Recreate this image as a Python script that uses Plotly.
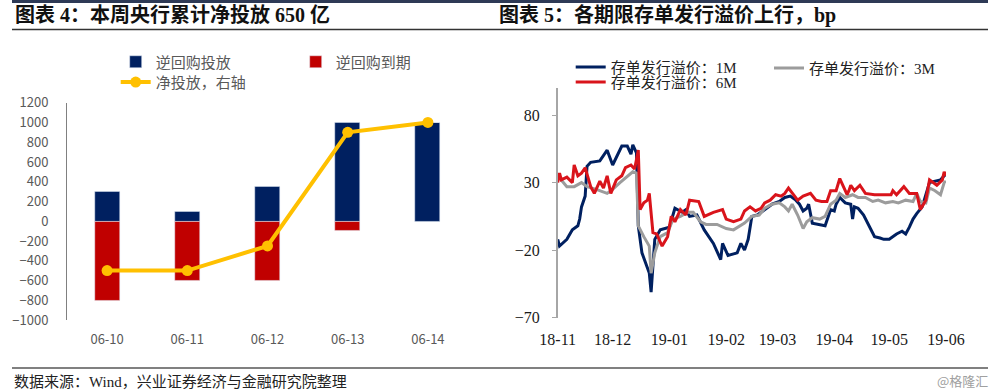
import plotly.graph_objects as go

# ---------------- Left chart data ----------------
days = ["06-10", "06-11", "06-12", "06-13", "06-14"]
rr_inject = [300, 100, 350, 1000, 1000]      # 逆回购投放
rr_mature = [-800, -600, -600, -100, 0]      # 逆回购到期
net_inject = [-500, -500, -250, 900, 1000]   # 净投放，右轴
left_ticks = [-1000, -800, -600, -400, -200, 0, 200, 400, 600, 800, 1000, 1200]

# ---------------- Right chart data ----------------
d_1m = ["2018-11-01","2018-11-02","2018-11-06","2018-11-09","2018-11-12","2018-11-13","2018-11-14",
        "2018-11-16","2018-11-17","2018-11-19","2018-11-24","2018-11-28","2018-12-01","2018-12-04",
        "2018-12-06","2018-12-09","2018-12-11","2018-12-12","2018-12-14","2018-12-15","2018-12-17",
        "2018-12-21","2018-12-22","2018-12-24","2018-12-27","2019-01-01","2019-01-04","2019-01-08",
        "2019-01-10","2019-01-12","2019-01-16","2019-01-20","2019-01-25","2019-01-29","2019-01-30",
        "2019-02-02","2019-02-07","2019-02-09","2019-02-11","2019-02-13","2019-02-15","2019-02-18",
        "2019-02-22","2019-02-26","2019-03-02","2019-03-05","2019-03-08","2019-03-11","2019-03-13",
        "2019-03-15","2019-03-17","2019-03-18","2019-03-20","2019-03-23","2019-03-27","2019-03-29",
        "2019-03-30","2019-04-01","2019-04-02","2019-04-04","2019-04-07","2019-04-10","2019-04-11",
        "2019-04-12","2019-04-14","2019-04-17","2019-04-20","2019-04-23","2019-04-26","2019-04-28",
        "2019-05-01","2019-05-03","2019-05-05","2019-05-08","2019-05-10","2019-05-12","2019-05-14",
        "2019-05-16","2019-05-19","2019-05-23","2019-05-26","2019-05-29","2019-05-31","2019-06-01"]
v_1m = [-12, -17, -12, -5, -2, 3, 12,
        20, 42, 45, 46, 54, 43, 51,
        57, 57, 51, 58, 52, -2, -22,
        -37, -51, -12, -5, -3, 11, 8,
        10, 5, 6, -5, -15, -27, -15,
        -24, -22, -15, -20, -12, 5, 6,
        10, 14, 16, 19, 20, 17, 14,
        9, 11, 14, 0, -1, -2, 6,
        10, 9, 14, 19, 15, 14, 3,
        12, 11, 6, -2, -10, -11, -12,
        -12, -10, -8, -6, -8, -3, 3,
        7, 12, 30, 31, 32, 35, 36]

d_3m = ["2018-11-01","2018-11-06","2018-11-10","2018-11-14","2018-11-17","2018-11-22","2018-11-28",
        "2018-12-01","2018-12-05","2018-12-09","2018-12-12","2018-12-14","2018-12-15","2018-12-18",
        "2018-12-21","2018-12-22","2018-12-24","2018-12-27","2018-12-31","2019-01-03","2019-01-07",
        "2019-01-11","2019-01-14","2019-01-18","2019-01-21","2019-01-27","2019-02-01","2019-02-05",
        "2019-02-09","2019-02-11","2019-02-15","2019-02-19","2019-02-22","2019-02-26","2019-03-02",
        "2019-03-05","2019-03-07","2019-03-09","2019-03-12","2019-03-15","2019-03-17","2019-03-20",
        "2019-03-24","2019-03-27","2019-03-30","2019-04-02","2019-04-04","2019-04-07","2019-04-11",
        "2019-04-14","2019-04-18","2019-04-22","2019-04-25","2019-04-29","2019-05-03","2019-05-06",
        "2019-05-10","2019-05-14","2019-05-16","2019-05-18","2019-05-21","2019-05-23","2019-05-26",
        "2019-05-29","2019-05-31","2019-06-01"]
v_3m = [35, 27, 27, 30, 27, 25, 22,
        25, 30, 35, 38, 37, -2, -10,
        -17, -37, -22, -10, -7, 3, 5,
        8, 8, 1, -1, -1, -4, -5,
        -2, 0, 5, 6, 11, 14, 15,
        12, 9, 14, 6, -4, 1, 4,
        3, 5, 14, 17, 22, 19, 21,
        19, 19, 16, 17, 15, 16, 15,
        17, 16, 22, 16, 15, 26, 24,
        21, 30, 31]

d_6m = ["2018-11-01","2018-11-02","2018-11-03","2018-11-06","2018-11-09","2018-11-10","2018-11-12",
        "2018-11-14","2018-11-16","2018-11-19","2018-11-21","2018-11-24","2018-11-26","2018-11-28",
        "2018-11-30","2018-12-03","2018-12-06","2018-12-08","2018-12-11","2018-12-13","2018-12-15",
        "2018-12-16","2018-12-18","2018-12-20","2018-12-21","2018-12-23","2018-12-25","2018-12-28",
        "2018-12-31","2019-01-02","2019-01-04","2019-01-07","2019-01-10","2019-01-12","2019-01-17",
        "2019-01-20","2019-01-25","2019-01-30","2019-02-01","2019-02-05","2019-02-09","2019-02-11",
        "2019-02-14","2019-02-17","2019-02-20","2019-02-22","2019-02-25","2019-02-28","2019-03-03",
        "2019-03-05","2019-03-07","2019-03-10","2019-03-12","2019-03-15","2019-03-19","2019-03-22",
        "2019-03-25","2019-03-28","2019-03-30","2019-04-02","2019-04-04","2019-04-06","2019-04-08",
        "2019-04-09","2019-04-10","2019-04-12","2019-04-15","2019-04-18","2019-04-23","2019-04-29",
        "2019-05-02","2019-05-03","2019-05-05","2019-05-09","2019-05-12","2019-05-16","2019-05-18",
        "2019-05-21","2019-05-23","2019-05-27","2019-05-30","2019-05-31","2019-06-01"]
v_6m = [30, 37, 32, 34, 30, 43, 35,
        37, 41, 27, 22, 31, 26, 35,
        22, 32, 35, 41, 43, 40, 54,
        10, 15, 17, 22, -7, -8, -17,
        -10, 5, 1, 10, 6, 17, 16,
        5, 8, 10, 3, 1, 3, 9,
        12, 9, 11, 15, 17, 21, 20,
        22, 26, 21, 17, 20, 22, 17,
        16, 16, 24, 24, 33, 27, 21,
        24, 28, 24, 28, 22, 21, 21,
        21, 24, 21, 27, 22, 22, 10,
        17, 32, 28, 32, 38, 35]

month_ticks = ["2018-11-01", "2018-12-01", "2019-01-01", "2019-02-01", "2019-03-01",
               "2019-04-01", "2019-05-01", "2019-06-01"]
month_labels = ["18-11", "18-12", "19-01", "19-02", "19-03", "19-04", "19-05", "19-06"]
right_ticks = [-70, -20, 30, 80]

# ---------------- Styling ----------------
NAVY = "#002060"
RED_BAR = "#C00000"
GOLD = "#FFC000"
RED_LINE = "#D9141B"
GRAY_LINE = "#9C9C9C"
SANS = "Noto Sans CJK SC, Noto Sans, sans-serif"
SERIF = "Liberation Serif, Noto Sans CJK SC, serif"

H = 391.0
def py(px):
    return 1 - px / H

fig = go.Figure()

# Left: bars + line
fig.add_trace(go.Bar(x=days, y=rr_inject, name="逆回购投放", marker_color=NAVY,
                     width=0.31, xaxis="x", yaxis="y", legend="legend"))
fig.add_trace(go.Bar(x=days, y=rr_mature, name="逆回购到期", marker_color=RED_BAR,
                     width=0.31, xaxis="x", yaxis="y", legend="legend2"))
fig.add_trace(go.Scatter(x=days, y=net_inject, name="净投放，右轴", mode="lines+markers",
                         line=dict(color=GOLD, width=4), marker=dict(size=11, color=GOLD),
                         xaxis="x", yaxis="y2", legend="legend3"))

# Right: lines
fig.add_trace(go.Scatter(x=d_1m, y=v_1m, name="存单发行溢价：1M", mode="lines",
                         line=dict(color=NAVY, width=3), xaxis="x2", yaxis="y3", legend="legend4"))
fig.add_trace(go.Scatter(x=d_3m, y=v_3m, name="存单发行溢价：3M", mode="lines",
                         line=dict(color=GRAY_LINE, width=3), xaxis="x2", yaxis="y3", legend="legend5"))
fig.add_trace(go.Scatter(x=d_6m, y=v_6m, name="存单发行溢价：6M", mode="lines",
                         line=dict(color=RED_LINE, width=3), xaxis="x2", yaxis="y3", legend="legend6"))

L_X = [0.067, 0.468]
L_Y = [py(320), py(102.7)]
R_X = [0.5577, 0.946]
R_Y = [py(317.7), py(88)]
L_ZERO = L_Y[0] + (1000 / 2200) * (L_Y[1] - L_Y[0])
R_ZERO = R_Y[0] + (70 / 170) * (R_Y[1] - R_Y[0])

def leg(x, y, size, family, color):
    return dict(x=x, y=y, xanchor="left", yanchor="middle", orientation="h",
                bgcolor="rgba(0,0,0,0)", borderwidth=0,
                font=dict(family=family, size=size, color=color))

fig.update_layout(
    width=1000, height=391,
    margin=dict(l=0, r=0, t=0, b=0, autoexpand=False),
    paper_bgcolor="white", plot_bgcolor="white",
    barmode="relative",
    bargap=0,
    xaxis=dict(domain=L_X, anchor="y", type="category", range=[-0.5, 4.5], automargin=False,
               showline=False, showgrid=False, zeroline=False,
               ticks="", ticklabelstandoff=10,
               tickfont=dict(family=SANS, size=13, color="#595959")),
    xaxis3=dict(domain=L_X, overlaying="x", anchor="free", position=L_ZERO, automargin=False,
                range=[-0.5, 4.5], tickvals=[0.5, 1.5, 2.5, 3.5, 4.5],
                showticklabels=False, showline=True, linecolor="#808080", linewidth=1,
                ticks="inside", ticklen=4, tickcolor="#808080",
                showgrid=False, zeroline=False),
    yaxis=dict(domain=L_Y, anchor="x", range=[-1000, 1200], tickvals=left_ticks, automargin=False,
               showline=True, linecolor="#808080", linewidth=1,
               ticks="", ticklabelstandoff=15,
               showgrid=False, zeroline=False,
               tickfont=dict(family=SANS, size=13, color="#595959")),
    yaxis2=dict(overlaying="y", anchor="x", side="right", range=[-1000, 1200], automargin=False,
                visible=False, showgrid=False, zeroline=False),
    xaxis2=dict(domain=R_X, anchor="y3", type="date", automargin=False,
                range=["2018-11-01", "2019-06-01"],
                tickvals=month_ticks, ticktext=month_labels,
                showline=False, showgrid=False, zeroline=False,
                ticks="", ticklabelstandoff=10,
                tickfont=dict(family=SERIF, size=16, color="#1a1a1a")),
    xaxis4=dict(domain=R_X, overlaying="x2", anchor="free", position=R_ZERO, type="date",
                automargin=False,
                range=["2018-11-01", "2019-06-01"], tickvals=month_ticks[1:],
                showticklabels=False, showline=True, linecolor="#A6A6A6", linewidth=1.5,
                ticks="inside", ticklen=4, tickcolor="#A6A6A6",
                showgrid=False, zeroline=False),
    yaxis3=dict(domain=R_Y, anchor="x2", range=[-70, 100], tickvals=right_ticks, automargin=False,
                showline=True, linecolor="#A6A6A6", linewidth=1.5,
                ticks="outside", ticklen=4, tickcolor="#A6A6A6", ticklabelstandoff=9,
                showgrid=False, zeroline=False,
                tickfont=dict(family=SERIF, size=16, color="#1a1a1a")),
    legend=leg(0.1157, py(62), 15, SANS, "#595959"),
    legend2=leg(0.2957, py(62), 15, SANS, "#595959"),
    legend3=leg(0.1157, py(82.3), 15, SANS, "#595959"),
    legend4=leg(0.5707, py(67.3), 15, SERIF, "#222222"),
    legend5=leg(0.769, py(68.3), 15, SERIF, "#222222"),
    legend6=leg(0.5707, py(82.3), 15, SERIF, "#222222"),
    showlegend=True,
)

# Titles, source, decorative rules
fig.add_annotation(text="<b>图表 4：本周央行累计净投放 650 亿</b>", x=0.013, y=py(15),
                   xref="paper", yref="paper", xanchor="left", yanchor="middle",
                   showarrow=False, font=dict(family=SERIF, size=20, color="#111111"))
fig.add_annotation(text="<b>图表 5：各期限存单发行溢价上行，bp</b>", x=0.497, y=py(15),
                   xref="paper", yref="paper", xanchor="left", yanchor="middle",
                   showarrow=False, font=dict(family=SERIF, size=20, color="#111111"))
fig.add_annotation(text="数据来源：Wind，兴业证券经济与金融研究院整理", x=0.012, y=py(381),
                   xref="paper", yref="paper", xanchor="left", yanchor="middle",
                   showarrow=False, font=dict(family=SERIF, size=15, color="#222222"))
fig.add_annotation(text="@格隆汇", x=0.99, y=py(380),
                   xref="paper", yref="paper", xanchor="right", yanchor="middle",
                   showarrow=False, font=dict(family=SANS, size=13, color="#A0A0A0"))

fig.add_shape(type="line", xref="paper", yref="paper", x0=0.012, x1=0.988,
              y0=py(1.5), y1=py(1.5), line=dict(color="#2E3A56", width=3))
fig.add_shape(type="line", xref="paper", yref="paper", x0=0.012, x1=0.988,
              y0=py(29.5), y1=py(29.5), line=dict(color="#333333", width=1.5))
fig.add_shape(type="line", xref="paper", yref="paper", x0=0.012, x1=0.988,
              y0=py(368), y1=py(368), line=dict(color="#808080", width=2))

fig.write_html("out.html", config={"displayModeBar": False},
               post_script="document.body.style.margin='0px';")
